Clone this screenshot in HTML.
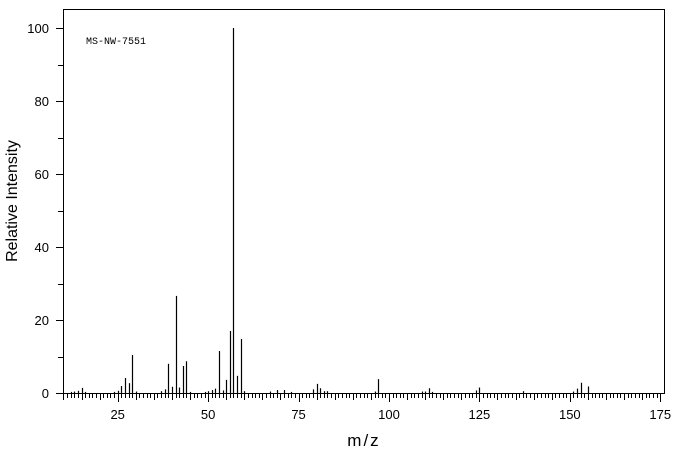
<!DOCTYPE html>
<html><head><meta charset="utf-8"><style>
html,body{margin:0;padding:0;background:#fff;}
svg{display:block;font-family:"Liberation Sans",sans-serif;}
</style></head><body>
<svg width="676" height="455" viewBox="0 0 676 455" xmlns="http://www.w3.org/2000/svg">
<g id="all"></g>
<script>
(function(){
var g=document.getElementById('all');var ns='http://www.w3.org/2000/svg';
function el(t,a,txt){var e=document.createElementNS(ns,t);for(var k in a)e.setAttribute(k,a[k]);if(txt!==undefined)e.textContent=txt;g.appendChild(e);return e;}
function X(m){return 117.7+(m-25)*3.617;}
function Y(i){return 393-3.65*i;}
el('path',{d:'M63.5,393 L63.5,9.5 L664.5,9.5 L664.5,393',fill:'none',stroke:'#000','stroke-width':1});
el('line',{x1:63,y1:393.5,x2:665,y2:393.5,stroke:'#000','stroke-width':1});
for(var m=10;m<=175;m++){var x=Math.round(X(m))+0.5;var L=m%25==0?9:(m%5==0?7:5);
el('line',{x1:x,y1:393,x2:x,y2:393+L,stroke:'#000','stroke-width':1});}
[25,50,75,100,125,150,175].forEach(function(m){el('text',{x:X(m),y:419,'font-size':13,'text-anchor':'middle'},String(m));});
for(var i=0;i<=100;i+=10){var y=Math.round(Y(i))+0.5;el('line',{x1:i%20==0?56:58,y1:y,x2:63,y2:y,stroke:'#000','stroke-width':1});
if(i%20==0)el('text',{x:49,y:Y(i)+5,'font-size':13,'text-anchor':'end'},String(i));}
var P=[[12,0.3],[13,0.4],[14,0.6],[15,1.4],[16,0.3],[24,0.3],[25,0.6],[26,1.9],[27,4.1],[28,2.7],[29,10.4],[30,0.4],[37,0.5],[38,1],[39,8],[40,1.7],[41,26.6],[42,1.5],[43,7.4],[44,8.7],[45,0.3],[49,0.3],[50,0.5],[51,0.8],[52,1.2],[53,11.5],[54,0.7],[55,3.6],[56,17],[57,100],[58,4.7],[59,14.8],[60,0.5],[67,0.4],[69,0.8],[71,0.8],[73,0.3],[79,1],[80,2.5],[81,1.3],[82,0.5],[83,0.5],[96,0.4],[97,3.8],[109,0.4],[110,0.4],[111,1.3],[112,0.3],[124,0.7],[125,1.5],[137,0.5],[151,0.4],[152,1.2],[153,2.8],[155,1.8]];
P.forEach(function(p){var x=Math.round(X(p[0]))+0.5;el('line',{x1:x,y1:393,x2:x,y2:Y(p[1]),stroke:'#000','stroke-width':1.2});});
el('text',{x:86,y:44,'font-size':10,'font-family':'Liberation Mono, monospace'},'MS-NW-7551');
el('text',{x:364,y:446,'font-size':17,'text-anchor':'middle','letter-spacing':'2'},'m/z');
el('text',{x:0,y:0,'font-size':16,'text-anchor':'middle',transform:'translate(17,201) rotate(-90)'},'Relative Intensity');
})();
</script>
</svg>
</body></html>
